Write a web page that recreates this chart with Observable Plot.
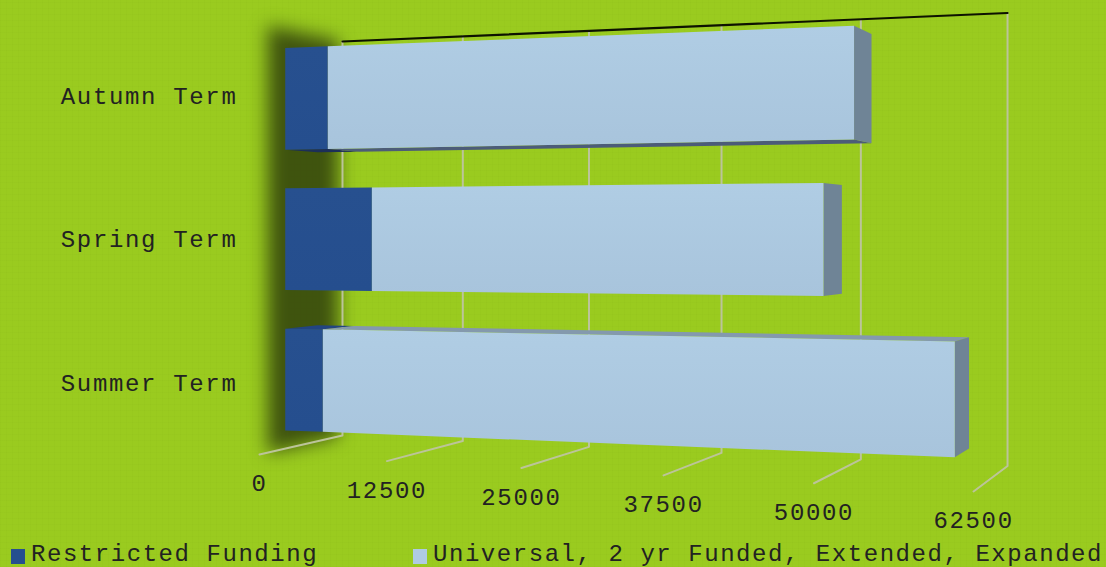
<!DOCTYPE html>
<html>
<head>
<meta charset="utf-8">
<script src="https://cdn.jsdelivr.net/npm/d3@7"></script>
<script src="https://cdn.jsdelivr.net/npm/@observablehq/plot@0.6"></script>
<style>
  html, body { margin: 0; padding: 0; width: 1106px; height: 567px; overflow: hidden; }
  body {
    background-color: #9acb1f;
    background-image:
      repeating-linear-gradient(0deg, rgba(70,110,0,.025) 0 1px, transparent 1px 6px),
      repeating-linear-gradient(90deg, rgba(70,110,0,.025) 0 1px, transparent 1px 6px);
    font-family: "Liberation Mono", monospace;
  }
  svg { display: block; }
  #legend { position: relative; height: 27px; color: #222; font-size: 24px; letter-spacing: 1.55px; white-space: nowrap; }
  #legend i { position: absolute; top: 9px; width: 14px; height: 15px; }
  #legend span { position: absolute; top: 3px; line-height: 23px; height: 23px; }
</style>
</head>
<body>
<div id="chart"></div>
<div id="legend"></div>
<script>
const terms = ["Autumn Term", "Spring Term", "Summer Term"];
const restricted = [4320, 8720, 3820];
const universal = [47780, 40860, 56380];
const ticks = [0, 12500, 25000, 37500, 50000, 62500];
const seriesNames = ["Restricted Funding", "Universal, 2 yr Funded, Extended, Expanded"];
const seriesColors = ["#264f8f", "#afcbe3"];

const vMax = 62500;
const frontDepth = 0.31, backDepth = 0.7;

// perspective camera: world (value, row, depth) -> picture
const xFloor = u => 259 + 620.5 * u / (1 - 0.131 * u);
const xWall = u => 342 + 587.5 * u / (1 - 0.1166 * u);
const hFloor = x => 215 + 37 * (x - 259) / 714;
const hWall = x => 197 + 29.5 * (x - 342) / 665;
const camera = () => d3.geoTransform({
  point(v, r, d = 0) {
    const u = v / vMax, xf = xFloor(u), xw = xWall(u);
    const h = hFloor(xf) * (1 - d) + hWall(xw) * d + d * (1 - d) * (5 - 19 * u);
    const cy = 239 - d * (1 - u);
    this.stream.point(xf * (1 - d) + xw * d, cy + r * h);
  }
});

const rows = d3.scaleBand(terms, [-1, 1]).paddingInner(0.275).paddingOuter(0.1375);

const bars = terms.flatMap((t, i) => {
  const r0 = rows(t), r1 = r0 + rows.bandwidth();
  return [
    {term: t, series: 0, v0: 0, v1: restricted[i], r0, r1},
    {term: t, series: 1, v0: restricted[i], v1: restricted[i] + universal[i], r0, r1}
  ];
});
const poly = (...pts) => ({type: "Polygon", coordinates: [[...pts, pts[0]]]});
const front = b => poly([b.v0, b.r0, frontDepth], [b.v1, b.r0, frontDepth], [b.v1, b.r1, frontDepth], [b.v0, b.r1, frontDepth]);
const cap = b => poly([b.v1, b.r0, frontDepth], [b.v1, b.r0, backDepth], [b.v1, b.r1, backDepth], [b.v1, b.r1, frontDepth]);
const flat = (b, r) => poly([b.v0, r, frontDepth], [b.v1, r, frontDepth], [b.v1, r, backDepth], [b.v0, r, backDepth]);

const ofSeries = s => bars.filter(b => b.series === s);
const defs = () => d3.create("svg:defs").html(`
  <linearGradient id="dark" x1="0" y1="0" x2="0" y2="1"><stop offset="0" stop-color="#27508f"/><stop offset="1" stop-color="#254e8e"/></linearGradient>
  <linearGradient id="light" x1="0" y1="0" x2="0" y2="1"><stop offset="0" stop-color="#b0cde4"/><stop offset="1" stop-color="#a8c4dc"/></linearGradient>
`).node();

const chart = Plot.plot({
  width: 1106,
  height: 540,
  margin: 0,
  projection: camera,
  style: {background: "transparent", fontFamily: "'Liberation Mono', monospace", letterSpacing: "1.66px"},
  marks: [
    defs,
    Plot.geo([poly([0, -1, 0.1], [0, -1, 0.95], [0, 1, 0.95], [0, 1, 0.1])], {
      fill: "#3a4d0e", fillOpacity: 0.95, imageFilter: "blur(9px)"
    }),
    Plot.geo(ticks, {
      geometry: v => ({type: "LineString", coordinates: [[v, -1, 1], [v, 1, 1], [v, 1, 0]]}),
      stroke: "#bcc49a", strokeWidth: 2, fill: "none"
    }),
    Plot.geo([{type: "LineString", coordinates: [[0, -1, 1], [vMax, -1, 1]]}], {stroke: "#0d1200", strokeWidth: 2.2, fill: "none"}),
    // rear faces of the bars, far to near
    Plot.geo(ofSeries(0).filter(b => b.r1 < -0.1), {geometry: b => flat(b, b.r1), fill: "#1c2f58"}),
    Plot.geo(ofSeries(1).filter(b => b.r1 < -0.1), {geometry: b => flat(b, b.r1), fill: "#4c5c78"}),
    Plot.geo(ofSeries(0).filter(b => b.r0 > 0.1), {geometry: b => flat(b, b.r0), fill: "#224481"}),
    Plot.geo(ofSeries(1).filter(b => b.r0 > 0.1), {geometry: b => flat(b, b.r0), fill: "#8499ad"}),
    Plot.geo(ofSeries(1), {geometry: cap, fill: "#6f8496"}),
    Plot.geo(ofSeries(0), {geometry: front, fill: "url(#dark)"}),
    Plot.geo(ofSeries(1), {geometry: front, fill: "url(#light)"}),
    Plot.text(ticks, {
      x: v => v, y: v => 1.135 - 0.02 * v / vMax, text: v => String(v),
      fontSize: 24, fill: "#222", textAnchor: "middle", lineAnchor: "middle"
    }),
    Plot.text(terms, {
      x: () => 0, y: t => rows(t) + rows.bandwidth() / 2,
      text: t => t, dx: -22,
      fontSize: 24, fill: "#222", textAnchor: "end", lineAnchor: "middle"
    })
  ]
});
document.getElementById("chart").append(chart);

const legend = document.getElementById("legend");
const legendAt = [[11, 31], [413, 433]];
seriesNames.forEach((name, i) => {
  const sw = document.createElement("i");
  sw.style.left = legendAt[i][0] + "px";
  sw.style.background = seriesColors[i];
  const tx = document.createElement("span");
  tx.style.left = legendAt[i][1] + "px";
  tx.textContent = name;
  legend.append(sw, tx);
});
</script>
</body>
</html>
